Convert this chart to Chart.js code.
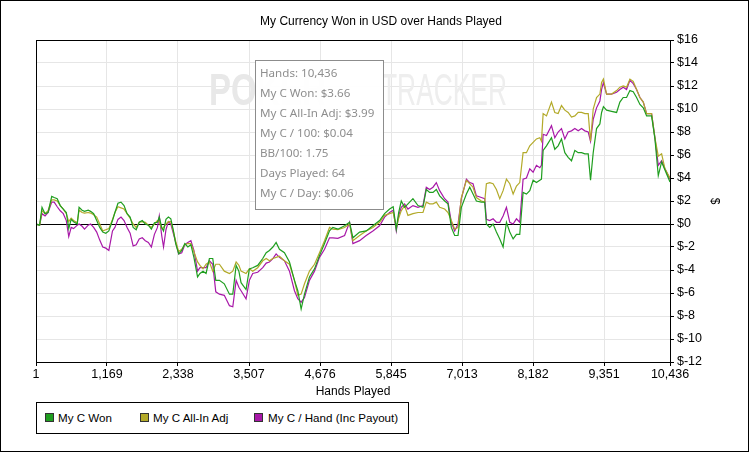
<!DOCTYPE html>
<html>
<head>
<meta charset="utf-8">
<script src="https://cdn.jsdelivr.net/npm/chart.js@4.4.0/dist/chart.umd.min.js"></script>
<style>
  html, body { margin: 0; padding: 0; background: #fff; }
  #wrap { position: relative; width: 749px; height: 452px; overflow: hidden; font-family: "Liberation Sans", Arial, sans-serif; }
  #frame { position: absolute; left: 0; top: 0; width: 749px; height: 452px; box-sizing: border-box; border: 1px solid #000; pointer-events: none; }
  #infoBox { position: absolute; left: 255px; top: 60px; width: 129px; height: 150px; box-sizing: border-box;
    border: 1px solid #8c8c8c; background: rgba(255,255,255,0.93); padding: 2px 0 0 4px;
    font-family: "Noto Sans", sans-serif; font-size: 11.6px; color: #8e8e8e; line-height: 20px; }
  #legendBox { position: absolute; left: 36px; top: 402px; width: 373px; height: 32px; box-sizing: border-box; border: 1px solid #000; background: #fff; }
  .lg { position: absolute; top: 0; height: 30px; line-height: 30px; font-size: 11.6px; color: #000; white-space: nowrap; }
  .sw { position: absolute; top: 10px; width: 9px; height: 9px; box-sizing: border-box; border: 1px solid #333; }
</style>
</head>
<body>
<div id="wrap">
  <canvas id="chart" width="749" height="452"></canvas>
  <div id="infoBox"></div>
  <div id="legendBox"></div>
  <div id="frame"></div>
</div>
<script>
const chartTitle = "My Currency Won in USD over Hands Played";
const seriesNames = ["My C Won", "My C All-In Adj", "My C / Hand (Inc Payout)"];
const seriesColors = ["#1f9e1f", "#b3aa2a", "#a818a8"];

// x tick labels (hands)
const handTicks = [1, 1169, 2338, 3507, 4676, 5845, 7013, 8182, 9351, 10436];
// y ticks
const dollarTicks = [-12, -10, -8, -6, -4, -2, 0, 2, 4, 6, 8, 10, 12, 14, 16];

// hands played at each sampled point
const hands = [
  1, 60, 100, 150, 200, 260, 300, 350, 400, 450,
  500, 540, 580, 620, 680, 710, 760, 800, 860, 900,
  950, 1000, 1050, 1100, 1150, 1200, 1260, 1300, 1350, 1400,
  1450, 1500, 1550, 1600, 1650, 1700, 1750, 1800, 1850, 1900,
  1950, 2000, 2030, 2070, 2100, 2140, 2180, 2220, 2260, 2300,
  2350, 2400, 2450, 2500, 2550, 2600, 2660, 2700, 2750, 2800,
  2855, 2910, 2960, 3020, 3100, 3185, 3240, 3295, 3340, 3376,
  3458, 3513, 3568, 3650, 3733, 3790, 3843, 3900, 3953, 4008,
  4090, 4173, 4255, 4310, 4365, 4420, 4502, 4585, 4667, 4750,
  4832, 4887, 4969, 5080, 5162, 5217, 5327, 5436, 5546, 5656,
  5738, 5821, 5880, 5931, 5970, 6013, 6068, 6123, 6205, 6288,
  6370, 6425, 6480, 6535, 6590, 6645, 6727, 6782, 6837, 6892,
  6947, 7002, 7085, 7140, 7194, 7249, 7331, 7386, 7414, 7469,
  7524, 7579, 7634, 7689, 7744, 7799, 7854, 7909, 7963, 8018,
  8073, 8128, 8183, 8238, 8293, 8320, 8348, 8403, 8485, 8540,
  8595, 8650, 8705, 8760, 8815, 8870, 8925, 8980, 9035, 9090,
  9128, 9172, 9227, 9282, 9310, 9340, 9392, 9474, 9557, 9611,
  9666, 9721, 9776, 9831, 9886, 9941, 9996, 10051, 10133, 10188,
  10243, 10298, 10353, 10436
];

const myCWon = [
  0, -0.1, 1.45, 0.9, 1.0, 2.4, 2.3, 2.2, 1.6, 1.3,
  1.0, -0.4, 0.4, 0.2, 0.0, 1.45, 1.2, 1.1, 1.2, 1.1,
  0.9, 0.3, -0.3, -0.7, -0.8, -0.6, 0.3, 1.0, 1.8, 1.9,
  1.6, 0.9, 0.6, -0.3, -0.5, 0.15, 0.3, 0.0, -0.1, -0.45,
  0.1, 0.15, 0.6, -0.3, -0.6, 0.4, 0.6, 0.45, -0.5, -1.7,
  -2.6, -2.3, -1.7, -2.0, -1.8, -2.9, -4.6, -4.3, -4.1, -4.3,
  -3.0, -3.0, -4.9, -4.9, -5.2, -6.1, -6.1, -3.6, -4.1, -5.1,
  -5.7, -3.9, -3.8, -3.6, -3.0, -2.5, -2.3, -2.0, -1.6, -2.2,
  -2.5, -3.3, -4.9, -5.8, -7.4, -6.1, -4.6, -3.9, -2.75, -1.7,
  -0.6, -0.3, -0.45, -0.15, 0.15, -1.2, -0.7, -0.6, -0.15, 0.3,
  0.9, 1.3, 1.5, -0.45, 1.0, 2.0, 1.45, 1.75, 2.2, 1.6,
  1.45, 3.0, 2.75, 2.75, 3.0, 2.45, 2.0, 1.75, -0.3, -1.0,
  -1.0, 1.45, 2.6, 3.2, 2.6, 2.0, 1.9, 1.9, 0.0, -0.3,
  0.0, -0.7, -1.3, -2.0, 0.15, -0.7, -1.3, -0.9, -0.9, 2.75,
  2.6, 2.9, 3.8, 3.6, 3.8, 3.9, 6.4, 6.8, 7.5, 6.5,
  6.8, 7.4, 6.2, 5.8, 5.5, 6.4, 6.2, 6.2, 6.1, 6.1,
  3.8, 6.2, 8.3, 8.7, 9.7, 10.2, 9.9, 9.8, 9.7, 10.6,
  11.0, 11.0, 11.6, 11.5, 11.0, 10.4, 10.1, 9.4, 9.4, 7.4,
  4.2, 5.4, 4.7, 3.66
];

const myCAllIn = [
  0, -0.1, 1.16, 0.9, 1.16, 2.1, 2.1, 2.0, 1.6, 1.3,
  0.9, 0.2, 0.5, 0.3, 0.1, 1.2, 1.0, 0.95, 1.0, 0.95,
  0.8, 0.6, 0.0, -0.6, -0.5, -0.4, 0.4, 1.0, 1.5, 1.4,
  1.3, 0.9, 0.5, 0.0, -0.3, 0.15, 0.2, 0.15, -0.1, -0.3,
  0.0, 0.3, 0.2, -0.4, -0.3, 0.0, 0.2, 0.2, -0.6, -1.5,
  -2.4, -2.2, -1.8, -1.7, -1.7, -2.4, -3.3, -3.6, -3.9, -3.5,
  -3.3, -4.1, -3.5, -3.5, -4.1, -4.3, -4.1, -3.3, -3.6, -4.1,
  -4.3, -3.9, -4.1, -3.8, -3.2, -3.0, -3.2, -3.0, -2.9, -2.8,
  -3.2, -3.5, -4.9, -6.2, -6.1, -5.2, -4.1, -3.5, -2.5, -1.45,
  -0.3, -0.45, -0.5, -0.3, 0.0, -1.45, -1.0, -0.6, -0.3, 0.15,
  0.75, 0.9, 1.0, -0.3, 0.5, 1.16, 1.6, 0.75, 0.9, 1.0,
  1.0, 1.9, 1.75, 1.75, 1.9, 1.45, 1.3, 1.0, 0.3, -0.45,
  -0.3, 2.3, 3.8, 3.5, 3.2, 2.3, 2.0, 1.9, 3.5, 3.6,
  3.5, 3.0, 2.2, 2.9, 3.9, 3.5, 2.6, 3.3, 3.6, 6.2,
  6.2, 6.8, 7.1, 7.4, 7.5, 7.2, 9.6, 9.4, 10.6, 9.7,
  9.6, 10.3, 9.9, 9.7, 9.3, 9.4, 9.7, 9.7, 9.6, 9.6,
  7.2, 10.0, 11.0, 11.3, 12.3, 12.6, 11.3, 11.3, 11.6, 11.9,
  12.0, 11.9, 12.6, 12.4, 11.7, 11.0, 10.6, 9.6, 9.6, 7.5,
  5.9, 6.1, 4.8, 3.99
];

const myCHand = [
  0, -0.1, 0.9, 0.7, 1.0, 1.9, 1.9, 1.5, 1.15, 0.9,
  0.3, -1.1, -0.3, -0.4, -0.1, 0.0, -0.2, -0.45, -0.1, 0.0,
  -0.3, -0.7, -1.4, -2.0, -2.1, -2.3, -0.6, -0.3, 0.4, 0.6,
  0.3, -0.3, -0.8, -1.9, -1.8, -1.3, -1.2, -1.45, -1.6, -2.0,
  -0.9, -0.3, 0.7, -1.0, -2.0, -0.5, 0.2, 0.0, -0.8, -1.6,
  -2.6, -2.5, -1.8, -1.6, -1.45, -2.3, -4.1, -3.8, -3.8, -3.8,
  -3.2, -3.5, -5.9, -6.1, -6.2, -7.1, -7.2, -4.9, -5.5, -5.8,
  -6.5, -4.9, -4.3, -4.2, -3.8, -3.4, -3.3, -3.0, -2.6, -2.9,
  -3.2, -4.1, -5.8, -6.5, -6.8, -6.4, -4.9, -4.1, -2.9, -2.2,
  -1.2, -1.2, -1.25, -1.0, 0.15, -1.7, -1.45, -1.0, -0.6, -0.15,
  0.6, 1.0, 1.2, -0.6, 0.7, 1.45, 1.75, 1.3, 1.6, 1.45,
  1.6, 3.2, 3.0, 3.2, 3.6, 2.9, 2.2, 1.9, 0.15, -0.6,
  0.0, 2.2, 3.9, 3.6, 3.5, 2.45, 2.3, 2.2, 0.4, 0.3,
  0.45, 0.15, 0.15, 0.7, 1.45, 0.15, 0.0, 0.45, 0.15, 3.9,
  4.0, 4.8, 4.5, 5.1, 4.9, 5.1, 7.8, 7.7, 8.55, 7.5,
  8.0, 8.3, 7.4, 8.0, 8.1, 8.3, 8.1, 8.3, 8.1, 8.0,
  7.2, 9.1, 10.1, 10.7, 11.7, 12.3, 11.3, 11.3, 11.45, 11.7,
  11.9, 11.7, 12.5, 12.2, 11.7, 11.0, 10.6, 9.6, 9.6, 7.5,
  5.1, 5.5, 4.8, 3.9
];

// summary box lines
const infoLines = [
  "Hands: 10,436",
  "My C Won: $3.66",
  "My C All-In Adj: $3.99",
  "My C / 100: $0.04",
  "BB/100: 1.75",
  "Days Played: 64",
  "My C / Day: $0.06"
];

const baseFont = { family: '"Liberation Sans", Arial, sans-serif', size: 12 };
const tickFont = { family: '"Liberation Sans", Arial, sans-serif', size: 12.5 };

// watermark, plot frame and chart title
const extras = {
  id: 'extras',
  beforeDatasetsDraw(chart) {
    const c = chart.ctx;
    c.save();
    c.textBaseline = 'alphabetic';
    // "POKER" in bold, "TRACKER" regular, both squeezed horizontally
    c.fillStyle = '#e8e8e8';
    c.font = 'bold 45px "Liberation Sans", Arial, sans-serif';
    c.save();
    c.translate(209, 105);
    c.scale(0.73, 1);
    c.fillText('POKER', 0, 0);
    c.restore();
    c.fillStyle = '#eeeeee';
    c.font = '45px "Liberation Sans", Arial, sans-serif';
    const w = c.measureText('TRACKER').width;
    c.translate(381, 105);
    c.scale(126 / w, 1);
    c.fillText('TRACKER', 0, 0);
    c.restore();
  },
  afterDraw(chart) {
    const c = chart.ctx;
    const a = chart.chartArea;
    c.save();
    c.strokeStyle = '#000';
    c.lineWidth = 1;
    c.strokeRect(Math.round(a.left) + 0.5, Math.round(a.top) + 0.5, Math.round(a.right - a.left), Math.round(a.bottom - a.top));
    c.fillStyle = '#000';
    c.font = '12px "Liberation Sans", Arial, sans-serif';
    c.textAlign = 'center';
    c.textBaseline = 'middle';
    c.fillText(chartTitle, 381, 22);
    c.restore();
  }
};

const seriesValues = [myCWon, myCAllIn, myCHand];
const datasets = seriesValues.map((vals, i) => ({
  label: seriesNames[i],
  data: hands.map((h, j) => ({ x: h, y: vals[j] })),
  borderColor: seriesColors[i],
  backgroundColor: seriesColors[i],
  borderWidth: 1.2,
  pointRadius: 0,
  tension: 0,
  fill: false
}));

const ctx = document.getElementById('chart').getContext('2d');
new Chart(ctx, {
  type: 'line',
  data: { datasets },
  options: {
    responsive: false,
    animation: false,
    devicePixelRatio: 1,
    layout: { padding: { left: 36, top: 40, right: 0, bottom: 40 } },
    plugins: {
      legend: { display: false },
      tooltip: { enabled: false },
      title: { display: false }
    },
    scales: {
      x: {
        type: 'linear',
        min: handTicks[0],
        max: handTicks[handTicks.length - 1],
        afterBuildTicks: s => { s.ticks = handTicks.map(v => ({ value: v })); },
        afterFit: s => { s.height = 50; },
        ticks: {
          autoSkip: false, maxRotation: 0, color: '#000', font: tickFont, padding: 1,
          callback: v => Number(v).toLocaleString('en-US')
        },
        grid: { color: '#e6e6e6', tickColor: '#000', tickLength: 4 },
        border: { color: '#000' },
        title: { display: true, text: 'Hands Played', color: '#000', font: baseFont, padding: { top: 0, bottom: 13.3 } }
      },
      y: {
        position: 'right',
        min: dollarTicks[0],
        max: dollarTicks[dollarTicks.length - 1],
        afterBuildTicks: s => { s.ticks = dollarTicks.map(v => ({ value: v })); },
        afterFit: s => { s.width = 79; },
        ticks: { color: '#000', font: tickFont, padding: 3, callback: v => '$' + v },
        grid: {
          color: c => (c.tick && c.tick.value === 0) ? '#000' : '#e6e6e6',
          tickColor: '#000', tickLength: 4
        },
        border: { color: '#000' },
        title: { display: true, text: '$', color: '#000', font: baseFont, padding: { top: 27, bottom: 0 } }
      }
    }
  },
  plugins: [extras]
});

// summary box
const info = document.getElementById('infoBox');
infoLines.forEach(t => {
  const d = document.createElement('div');
  d.textContent = t;
  info.appendChild(d);
});

// legend
const legendBox = document.getElementById('legendBox');
const swatchX = [8, 103, 217];
const textX = [21, 116, 231];
seriesNames.forEach((name, i) => {
  const sw = document.createElement('div');
  sw.className = 'sw';
  sw.style.left = swatchX[i] + 'px';
  sw.style.background = seriesColors[i];
  legendBox.appendChild(sw);
  const t = document.createElement('div');
  t.className = 'lg';
  t.style.left = textX[i] + 'px';
  t.textContent = name;
  legendBox.appendChild(t);
});
</script>
</body>
</html>
